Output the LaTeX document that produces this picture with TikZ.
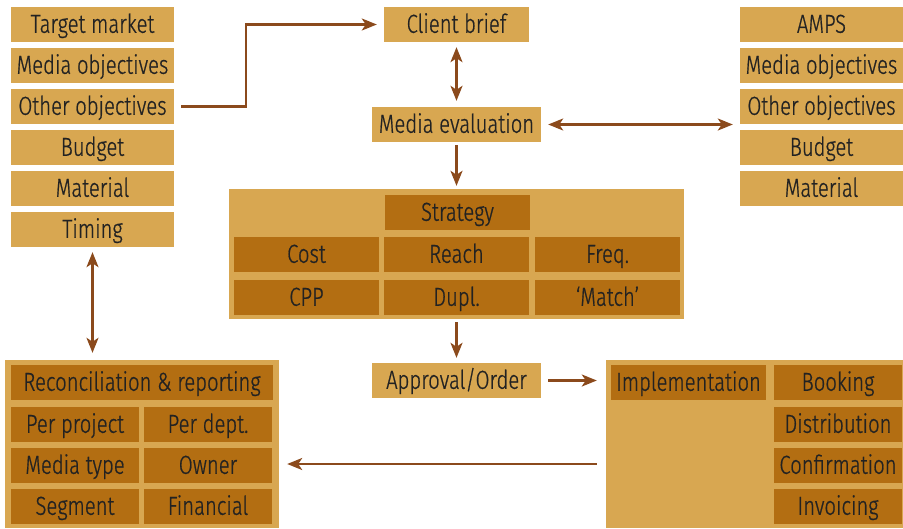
\documentclass[tikz,border=0pt]{standalone}
\usepackage{fontspec}
\setmainfont{Fira Sans}[UprightFont=* Light, FakeStretch=0.78, FakeBold=0.7]
\usetikzlibrary{arrows.meta}
\definecolor{lightbox}{HTML}{D8A751}
\definecolor{darkbox}{HTML}{B36E12}
\definecolor{arrowc}{HTML}{8B4A1C}
\definecolor{txt}{HTML}{222222}
\tikzset{
  lbox/.style={fill=lightbox, minimum height=35pt, inner sep=0pt, text height=17.9pt, text depth=1.3pt, text=txt, font=\fontsize{26}{30}\selectfont, align=center},
  dbox/.style={lbox, fill=darkbox},
  bigbox/.style={fill=lightbox, inner sep=0pt},
  arr/.style={draw=arrowc, line width=2.3pt, -{Stealth[length=15pt,width=12pt,inset=4pt]}},
  darr/.style={arr, {Stealth[length=15pt,width=12pt,inset=4pt]}-{Stealth[length=15pt,width=12pt,inset=4pt]}}
}
\begin{document}
\begin{tikzpicture}[x=1pt,y=-1pt]
\useasboundingbox (0,0) rectangle (903,528);
% left column
\node[lbox, minimum width=163pt] (tm) at (92.5,24.5) {Target market};
\node[lbox, minimum width=163pt] (mo) at (92.5,65.5) {Media objectives};
\node[lbox, minimum width=163pt] (oo) at (92.5,106.5) {Other objectives};
\node[lbox, minimum width=163pt] (bu) at (92.5,147.5) {Budget};
\node[lbox, minimum width=163pt] (ma) at (92.5,188.5) {Material};
\node[lbox, minimum width=163pt] (ti) at (92.5,229.5) {Timing};
% right column
\node[lbox, minimum width=163pt] (amps) at (821.5,24.5) {AMPS};
\node[lbox, minimum width=163pt] (rmo) at (821.5,65.5) {Media objectives};
\node[lbox, minimum width=163pt] (roo) at (821.5,106.5) {Other objectives};
\node[lbox, minimum width=163pt] (rbu) at (821.5,147.5) {Budget};
\node[lbox, minimum width=163pt] (rma) at (821.5,188.5) {Material};
% centre
\node[lbox, minimum width=145pt] (cb) at (456.5,24.5) {Client brief};
\node[lbox, minimum width=169pt] (me) at (456.5,124.5) {Media evaluation};
\node[bigbox, minimum width=455pt, minimum height=130pt] (sb) at (456.5,254) {};
\node[dbox, minimum width=145pt] (st) at (457.5,212.5) {Strategy};
\node[dbox, minimum width=145pt] (co) at (306.5,254.5) {Cost};
\node[dbox, minimum width=145pt] (re) at (456.5,254.5) {Reach};
\node[dbox, minimum width=145pt] (fr) at (607.5,254.5) {Freq.};
\node[dbox, minimum width=145pt] (cpp) at (306.5,297.5) {CPP};
\node[dbox, minimum width=145pt] (du) at (456.5,297.5) {Dupl.};
\node[dbox, minimum width=145pt] (mt) at (607.5,297.5) {‘Match’};
\node[lbox, minimum width=169pt] (ao) at (456.5,380.5) {Approval/Order};
% reconciliation
\node[bigbox, minimum width=274pt, minimum height=168pt] (rb) at (142,444) {};
\node[dbox, minimum width=262pt] (rr) at (142,382.5) {Reconciliation \& reporting};
\node[dbox, minimum width=128pt] (pp) at (75,424.5) {Per project};
\node[dbox, minimum width=128pt] (pd) at (208,424.5) {Per dept.};
\node[dbox, minimum width=128pt] (mty) at (75,465.5) {Media type};
\node[dbox, minimum width=128pt] (ow) at (208,465.5) {Owner};
\node[dbox, minimum width=128pt] (sg) at (75,506.5) {Segment};
\node[dbox, minimum width=128pt] (fi) at (208,506.5) {Financial};
% implementation
\node[bigbox, minimum width=297pt, minimum height=168pt] (ib) at (754.5,444) {};
\node[dbox, minimum width=155pt] (im) at (688.5,382.5) {Implementation};
\node[dbox, minimum width=128pt] (bo) at (838,382.5) {Booking};
\node[dbox, minimum width=128pt] (di) at (838,424.5) {Distribution};
\node[dbox, minimum width=128pt] (cf) at (838,465.5) {Confirmation};
\node[dbox, minimum width=128pt] (iv) at (838,506.5) {Invoicing};
% connectors
\coordinate (k) at (246,0);
\draw[arr] ([xshift=7pt]oo.east) -| (k |- cb.west) -- ([xshift=-7pt]cb.west);
\draw[darr] ([yshift=-5pt]cb.south) -- ([yshift=6pt]me.north);
\draw[darr] ([xshift=7pt]me.east) -- ([xshift=-7pt]me.east -| roo.west);
\draw[arr] ([yshift=-3pt]me.south) -- ([yshift=3pt]sb.north);
\draw[arr] ([yshift=-3pt]sb.south) -- ([yshift=5pt]ao.north);
\draw[arr] ([xshift=7pt]ao.east) -- ([xshift=-9pt]ao.east -| ib.west);
\draw[darr] ([yshift=-5pt]ti.south) -- ([yshift=7pt]ti.south |- rb.north);
\coordinate (bs) at ([xshift=-9pt]ib.west |- 0,464);
\draw[arr] (bs) -- ([xshift=8pt]bs -| rb.east);
\end{tikzpicture}
\end{document}
